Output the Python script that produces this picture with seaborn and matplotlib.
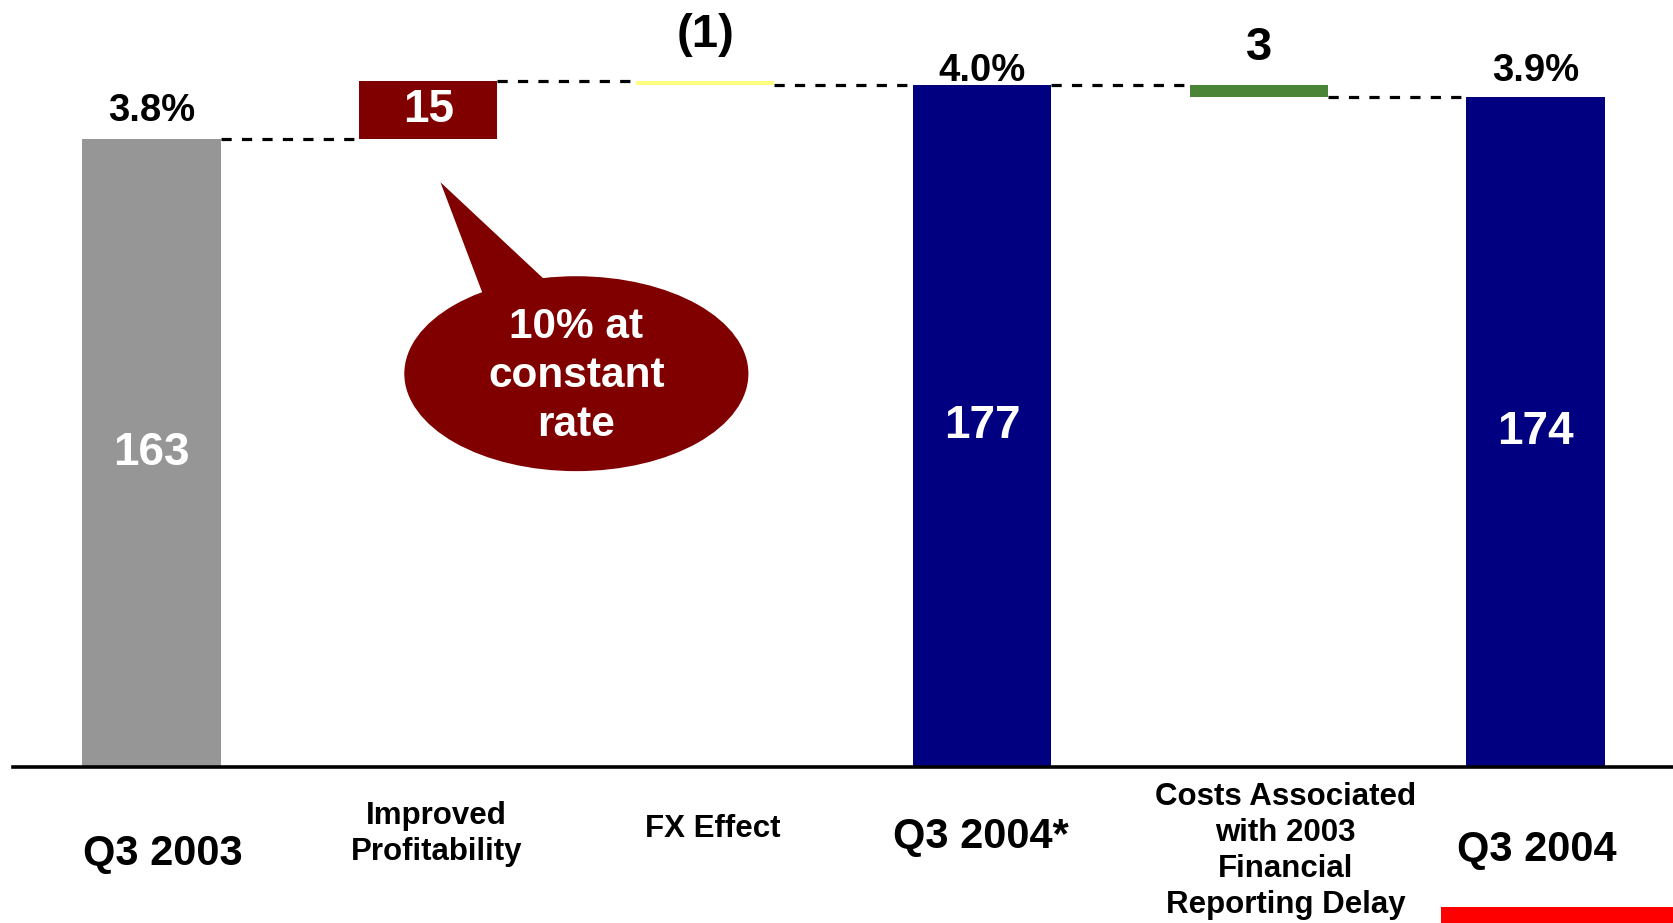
import matplotlib
matplotlib.use("Agg")
import matplotlib.pyplot as plt
from matplotlib.patches import Ellipse, Polygon, Rectangle
import numpy as np
import pandas as pd
import seaborn as sns

# ---- data -------------------------------------------------------------
categories = [
    "Q3 2003",
    "Improved\nProfitability",
    "FX Effect",
    "Q3 2004*",
    "Costs Associated\nwith 2003\nFinancial\nReporting Delay",
    "Q3 2004",
]
values = [163, 15, -1, 177, -3, 174]
is_total = [True, False, False, True, False, True]
total_pct_labels = ["3.8%", "4.0%", "3.9%"]
change_labels = ["15", "(1)", "3"]
bar_colors = ["#969696", "#800000", "#FFFF80", "#000080", "#4A8537", "#000080"]
callout_text = "10% at\nconstant\nrate"

# ---- waterfall geometry from the running total ------------------------
bottoms, heights, levels = [], [], []
level = 0
for v, tot in zip(values, is_total):
    if tot:
        bottoms.append(0)
        heights.append(v)
        level = v
    else:
        new = level + v
        bottoms.append(min(level, new))
        heights.append(abs(v))
        level = new
    levels.append(level)

df = pd.DataFrame({"category": categories, "height": heights, "bottom": bottoms})

# ---- figure -----------------------------------------------------------
sns.set_style("white")
plt.rcParams["font.family"] = ["Liberation Sans", "DejaVu Sans"]
plt.rcParams["font.weight"] = "bold"

W, H = 1674, 923
fig = plt.figure(figsize=(W / 100, H / 100), dpi=100)
ax = fig.add_axes([13 / W, 156 / H, 1 - 13 / W, 767 / H])

sns.barplot(data=df, x="category", y="height", bottom=df["bottom"].to_numpy(),
            width=0.5, color="#969696", saturation=1, errorbar=None,
            ax=ax, zorder=2, linewidth=0)
for patch, c in zip(ax.patches, bar_colors):
    patch.set_facecolor(c)

ax.set_xlim(-0.5, 5.5)
ax.set_ylim(0, 199.1)
for side in ("left", "top", "right"):
    ax.spines[side].set_visible(False)
ax.spines["bottom"].set_linewidth(2.6)
ax.spines["bottom"].set_color("black")
ax.set_yticks([])
ax.tick_params(bottom=False, labelbottom=False)
ax.set_xlabel("")
ax.set_ylabel("")

# dashed connectors between consecutive bars
half = 0.25
for i in range(len(values) - 1):
    ax.plot([i + half, i + 1 - half], [levels[i], levels[i]], color="black",
            lw=2.3, ls=(0, (3.2, 3.2)), zorder=1, solid_capstyle="butt")

# value labels
px = 0.72  # pixels -> points
pct_iter = iter(total_pct_labels)
chg_iter = iter(change_labels)
pct_offsets = iter([18, 4, 16])
chg_offsets = iter([None, 34, 25])
for i, (v, tot) in enumerate(zip(values, is_total)):
    top = bottoms[i] + heights[i]
    if tot:
        ax.text(i, v / 2, f"{v}", ha="center", va="center", color="white",
                fontsize=33, fontweight="bold", zorder=3)
        ax.annotate(next(pct_iter), xy=(i, v), xytext=(0, next(pct_offsets) * px),
                    textcoords="offset points", ha="center", va="baseline",
                    fontsize=27.5, fontweight="bold", color="black")
    else:
        lab = next(chg_iter)
        off = next(chg_offsets)
        if off is None:
            ax.text(i, bottoms[i] + heights[i] / 2, lab, ha="center", va="center",
                    color="white", fontsize=33, fontweight="bold", zorder=3)
        else:
            ax.annotate(lab, xy=(i, top), xytext=(0, off * px),
                        textcoords="offset points", ha="center", va="baseline",
                        fontsize=34, fontweight="bold", color="black")

# category labels under the axis line
lab_dx = [11, 8, 8, -1, 27, 1]
lab_dy = [87, 67, 62, 70, 84, 83]
for i, (name, tot) in enumerate(zip(categories, is_total)):
    ax.annotate(name, xy=(i, 0), xytext=(lab_dx[i] * px, -lab_dy[i] * px),
                textcoords="offset points", ha="center", va="center",
                fontsize=30 if tot else 22.5, fontweight="bold",
                linespacing=1.27, color="black", annotation_clip=False)

# speech-bubble callout for the profitability step
bubble_color = "#800000"
ax.add_patch(Ellipse((1.535, 102.1), 1.243, 50.6, facecolor=bubble_color,
                     edgecolor="none", zorder=3))
ax.add_patch(Polygon([(1.044, 151.8), (1.196, 123.0), (1.535, 102.1), (1.416, 126.8)],
                     closed=True, facecolor=bubble_color, edgecolor="none", zorder=3))
ax.text(1.535, 101.5, callout_text, ha="center", va="center", color="white",
        fontsize=30.5, fontweight="bold", linespacing=1.3, zorder=4)

# red accent strip in the lower right corner
fig.add_artist(Rectangle((1441 / W, 0), 233 / W, 16 / H, transform=fig.transFigure,
                         facecolor="#FF0000", edgecolor="none"))

fig.savefig("out.png", dpi=100, facecolor="white")
